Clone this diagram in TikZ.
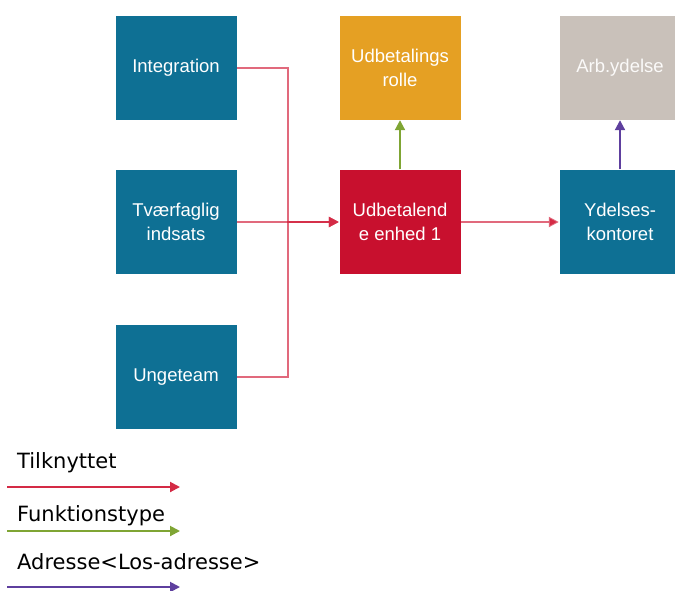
\documentclass[tikz,border=0pt]{standalone}
\usepackage{fontspec}
\setmainfont{Liberation Sans}
\newfontfamily\legendfont{DejaVu Sans}
\usetikzlibrary{arrows.meta}
\definecolor{cblue}{HTML}{0E7094}
\definecolor{corange}{HTML}{E5A023}
\definecolor{cred}{HTML}{C8102E}
\definecolor{cgray}{HTML}{C9C1BA}
\definecolor{lred}{HTML}{D42A45}
\definecolor{lgreen}{HTML}{7FA534}
\definecolor{lpurple}{HTML}{5E3F9E}
\tikzset{
  box/.style={minimum width=122pt, minimum height=105pt, inner sep=0pt, text=white,
    align=center, font=\fontsize{18.5}{24}\selectfont, draw=white, line width=0.4pt},
  bluebox/.style={box, fill=cblue},
  tip/.style={-{Triangle[length=10pt,width=10pt]}},
  redline/.style={draw=lred, line width=2pt, draw opacity=0.7},
  legtext/.style={anchor=base west, inner sep=0pt, font=\legendfont\fontsize{21}{25}\selectfont},
}
\begin{document}
\begin{tikzpicture}[x=1pt,y=-1pt]
\useasboundingbox (0,0) rectangle (675,590);
\clip (0,0) rectangle (675,590);
\node[bluebox] (integ) at (176,67.5) {Integration};
\node[bluebox] (tvaer) at (176,222) {Tværfaglig\\indsats};
\node[bluebox] (unge) at (176,377) {Ungeteam};
\node[box, fill=corange] (udrolle) at (400,67.5) {Udbetalings\\rolle};
\node[box, fill=cred] (udenhed) at (400,222) {Udbetalend\\e enhed 1};
\node[box, fill=cgray, text=white!92!cgray] (arb) at (620,67.5) {Arb.ydelse};
\node[bluebox] (ydel) at (620,222) {Ydelses-\\kontoret};
\coordinate (j1) at (288,67.5);
\coordinate (j2) at (288,377);
\draw[redline, tip] (integ.east) -- (j1) |- (udenhed.west);
\draw[redline, tip] (unge.east) -- (j2) |- (udenhed.west);
\draw[redline, tip] (tvaer.east) -- (udenhed.west);
\draw[redline, tip] (udenhed.east) -- (ydel.west);
\draw[lgreen, line width=2pt, tip] (udenhed.north) -- (udrolle.south);
\draw[lpurple, line width=2pt, tip] (ydel.north) -- (arb.south);
% legend
\node[legtext] (l1) at (17,468) {Tilknyttet};
\node[legtext] (l2) at (17,521) {Funktionstype};
\node[legtext] (l3) at (17,569) {Adresse<Los-adresse>};
\coordinate (a1s) at (7,487); \coordinate (a1e) at (180,487);
\coordinate (a2s) at (7,531); \coordinate (a2e) at (180,531);
\coordinate (a3s) at (7,587); \coordinate (a3e) at (180,587);
\draw[lred, line width=2pt, tip] (a1s) -- (a1e);
\draw[lgreen, line width=2pt, tip] (a2s) -- (a2e);
\draw[lpurple, line width=2pt, tip] (a3s) -- (a3e);
\end{tikzpicture}
\end{document}
